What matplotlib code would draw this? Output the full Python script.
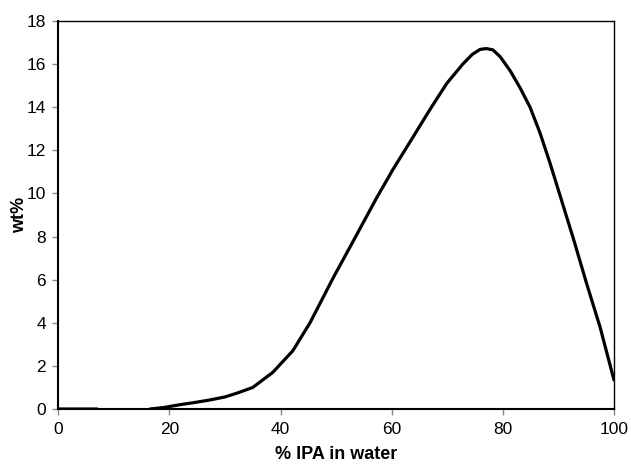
import numpy as np
import matplotlib
matplotlib.use('Agg')
import matplotlib.pyplot as plt

plt.rcParams['font.family'] = ['Liberation Sans', 'DejaVu Sans']

# % IPA in water vs wt%
ipa = [0, 7, 12, 16.5, 19, 21.9, 24.5, 27.3, 30, 32.2, 35, 38.6, 42.2, 45.3,
       47.4, 49.5, 53.1, 57.3, 60.2, 63.8, 66.9, 69.9, 72.8, 74.5, 75.9, 77.0,
       78.2, 79.5, 81.3, 83.1, 84.9, 86.7, 88.5, 90.3, 92.7, 95.1, 97.5, 100]
wt = [0, 0, np.nan, 0, 0.07, 0.2, 0.3, 0.42, 0.56, 0.74, 1.0, 1.7, 2.7, 4.0,
      5.05, 6.1, 7.8, 9.8, 11.1, 12.6, 13.9, 15.1, 16.0, 16.45, 16.68, 16.72,
      16.66, 16.35, 15.7, 14.9, 14.0, 12.8, 11.4, 9.9, 7.9, 5.8, 3.8, 1.35]

fig = plt.figure(figsize=(6.31, 4.66), dpi=100)
ax = fig.add_axes([0.0924, 0.1223, 0.8806, 0.8327])

ax.plot(ipa, wt, color='black', linewidth=2.3, solid_capstyle='round',
        solid_joinstyle='round')

ax.set_xlim(0, 100)
ax.set_ylim(0, 18)
ax.set_xticks(np.arange(0, 101, 20))
ax.set_yticks(np.arange(0, 19, 2))
ax.tick_params(direction='out', length=4, width=1, color='#888888',
               labelsize=12.5, pad=5)

for side in ['left', 'bottom']:
    ax.spines[side].set_linewidth(1.5)
for side in ['top', 'right']:
    ax.spines[side].set_linewidth(1.0)

ax.set_xlabel('% IPA in water', fontsize=13, fontweight='bold', labelpad=7)
ax.set_ylabel('wt%', fontsize=13, fontweight='bold', labelpad=-1)

fig.savefig('out.png', dpi=100)
